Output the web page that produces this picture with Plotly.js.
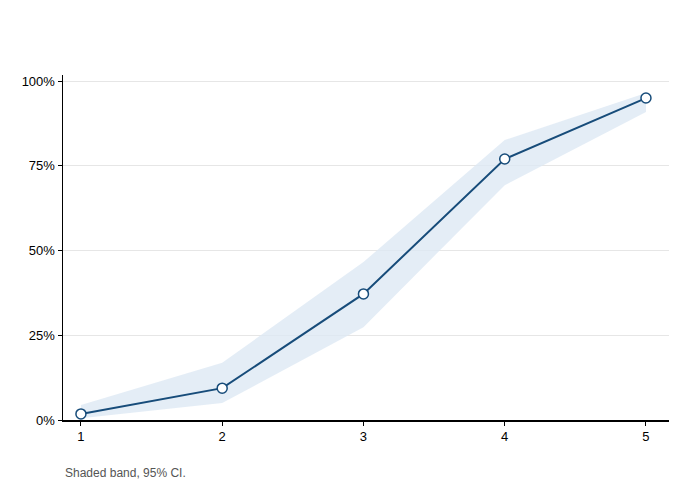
<!DOCTYPE html>
<html>
<head>
<meta charset="utf-8">
<script src="https://cdn.plot.ly/plotly-3.0.1.min.js"></script>
<style>html,body{margin:0;padding:0;background:#fff}#chart{width:690px;height:489px}</style>
</head>
<body>
<div id="chart"></div>
<script>
var categories = [1, 2, 3, 4, 5];
var share = [0.018, 0.094, 0.372, 0.770, 0.950];
var ciLower = [0.005, 0.050, 0.274, 0.693, 0.909];
var ciUpper = [0.044, 0.169, 0.466, 0.826, 0.965];
var yTickVals = [0, 0.25, 0.5, 0.75, 1];
var yTickText = ["0%", "25%", "50%", "75%", "100%"];
var caption = "Shaded band, 95% CI.";

var band = {
  x: categories.concat(categories.slice().reverse()),
  y: ciUpper.concat(ciLower.slice().reverse()),
  type: "scatter", mode: "lines", fill: "toself",
  fillcolor: "rgba(221,232,244,0.8)",
  line: {width: 0, color: "rgba(0,0,0,0)"},
  hoverinfo: "skip", showlegend: false
};
var line = {
  x: categories, y: share, type: "scatter", mode: "lines+markers",
  line: {color: "#174c7a", width: 2},
  marker: {size: 10, color: "#ffffff", line: {color: "#174c7a", width: 1.5}},
  showlegend: false
};

var layout = {
  width: 690, height: 489,
  margin: {l: 63, r: 21, t: 75, b: 69},
  paper_bgcolor: "#fff", plot_bgcolor: "#fff",
  font: {family: "Liberation Sans, Arial, sans-serif", color: "#000", size: 13},
  xaxis: {
    range: [0.873, 5.163], tickvals: categories, ticktext: categories.map(String),
    showgrid: false, zeroline: false, showline: true, linecolor: "#000", linewidth: 1.5,
    ticks: "outside", ticklen: 4, tickcolor: "#000", tickfont: {size: 13}
  },
  yaxis: {
    range: [0, 1.018], tickvals: yTickVals, ticktext: yTickText,
    showgrid: true, gridcolor: "#e6e6e6", zeroline: false,
    showline: true, linecolor: "#000", linewidth: 1.5,
    ticks: "outside", ticklen: 4, tickcolor: "#000", tickfont: {size: 13}
  },
  annotations: [{
    text: caption, xref: "paper", yref: "paper", x: 0, y: -0.155,
    xanchor: "left", yanchor: "middle", showarrow: false,
    font: {size: 12, color: "#555"}
  }]
};
Plotly.newPlot("chart", [band, line], layout, {displayModeBar: false, staticPlot: true});
</script>
</body>
</html>
